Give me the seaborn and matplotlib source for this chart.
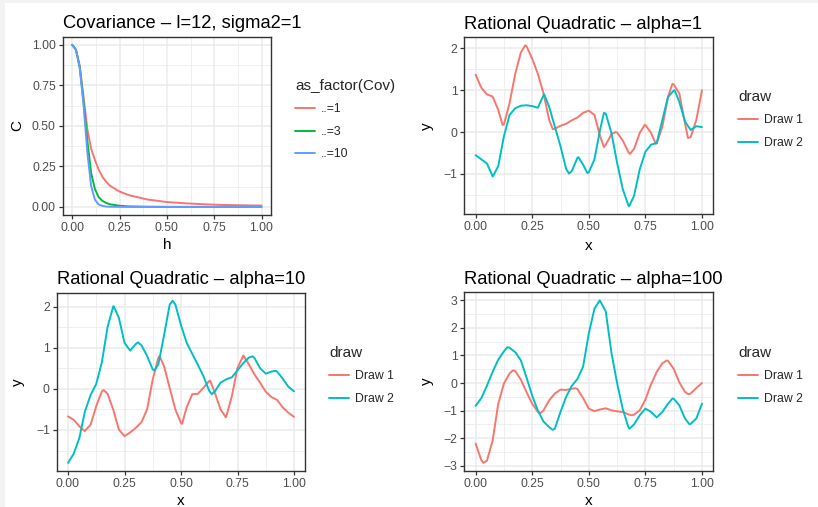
import numpy as np
import pandas as pd
import matplotlib
matplotlib.use('Agg')
import matplotlib.pyplot as plt
import seaborn as sns
from matplotlib.patches import Rectangle
from matplotlib.ticker import MultipleLocator, FormatStrFormatter

# covariance curves
h_vals = [0.0, 0.02, 0.04, 0.06, 0.08, 0.10, 0.12, 0.14, 0.16, 0.18, 0.20,
          0.25, 0.30, 0.40, 0.50, 0.60, 0.70, 0.80, 0.90, 1.00]
cov_1 = [1.0, 0.97, 0.87, 0.68, 0.48, 0.36, 0.29, 0.23, 0.185, 0.155, 0.13,
         0.095, 0.072, 0.045, 0.03, 0.022, 0.016, 0.012, 0.01, 0.008]
cov_3 = [1.0, 0.97, 0.86, 0.65, 0.41, 0.21, 0.11, 0.06, 0.037, 0.024, 0.016,
         0.007, 0.003, 0.001, 0.0, 0.0, 0.0, 0.0, 0.0, 0.0]
cov_10 = [1.0, 0.97, 0.86, 0.63, 0.34, 0.13, 0.045, 0.015, 0.006, 0.002, 0.001,
          0.0, 0.0, 0.0, 0.0, 0.0, 0.0, 0.0, 0.0, 0.0]
cov_labels = ['..=1', '..=3', '..=10']

# sample draws, read at x = 0, 0.025, ..., 1
x_draw = np.linspace(0, 1, 41)

a1_draw1 = [1.37, 1.06, 0.90, 0.85, 0.53, 0.18, 0.69, 1.39, 1.90, 2.05, 1.75,
            1.39, 0.92, 0.29, 0.08, 0.15, 0.20, 0.28, 0.35, 0.46, 0.51,
            0.41, -0.10, -0.30, -0.05, -0.01, -0.20, -0.48, -0.40, -0.02, 0.17,
            -0.02, -0.27, 0.13, 0.84, 1.14, 0.92, 0.21, -0.12, 0.29, 1.00]
a1_draw2 = [-0.55, -0.65, -0.75, -1.05, -0.81, -0.10, 0.41, 0.57, 0.63, 0.64, 0.62,
            0.58, 0.88, 0.60, 0.13, -0.34, -0.88, -0.93, -0.61, -0.78, -0.96,
            -0.65, 0.06, 0.44, -0.02, -0.73, -1.36, -1.75, -1.52, -0.89, -0.47,
            -0.30, -0.26, 0.29, 0.84, 0.99, 0.72, 0.25, 0.05, 0.14, 0.12]

a10_draw1 = [-0.67, -0.75, -0.91, -1.02, -0.87, -0.42, -0.06, -0.12, -0.50, -0.99, -1.15,
             -1.06, -0.95, -0.81, -0.50, 0.23, 0.76, 0.55, 0.02, -0.50, -0.83,
             -0.45, -0.13, -0.12, 0.03, 0.19, -0.10, -0.50, -0.68, -0.18, 0.51,
             0.80, 0.60, 0.35, 0.15, -0.07, -0.20, -0.27, -0.45, -0.58, -0.68]
a10_draw2 = [-1.80, -1.58, -1.20, -0.55, -0.15, 0.12, 0.65, 1.50, 2.00, 1.73, 1.12,
             0.93, 1.09, 1.06, 0.80, 0.47, 0.60, 1.30, 2.05, 2.05, 1.55,
             1.12, 0.85, 0.58, 0.30, -0.05, -0.06, 0.15, 0.23, 0.28, 0.45,
             0.62, 0.76, 0.75, 0.50, 0.37, 0.42, 0.42, 0.25, 0.05, -0.06]

a100_draw1 = [-2.20, -2.80, -2.82, -2.10, -0.75, -0.02, 0.35, 0.44, 0.12, -0.33, -0.75,
              -1.05, -0.99, -0.63, -0.38, -0.24, -0.25, -0.21, -0.22, -0.55, -0.93,
              -1.02, -0.96, -0.92, -0.99, -1.03, -1.05, -1.14, -1.15, -0.99, -0.60,
              -0.05, 0.40, 0.72, 0.80, 0.52, 0.02, -0.32, -0.38, -0.18, 0.00]
a100_draw2 = [-0.83, -0.55, -0.10, 0.40, 0.85, 1.15, 1.28, 1.12, 0.82, 0.20, -0.46,
              -1.00, -1.40, -1.60, -1.66, -1.05, -0.50, -0.10, 0.15, 0.60, 1.80,
              2.70, 2.98, 2.60, 1.10, 0.00, -0.95, -1.60, -1.50, -1.17, -0.93,
              -1.05, -1.25, -1.05, -0.75, -0.57, -0.81, -1.29, -1.48, -1.29, -0.75]

# turning points read separately (x, y), merged into the grid above
a1_draw1_tx = [0.119, 0.219, 0.341, 0.567, 0.618, 0.682, 0.747, 0.796, 0.869, 0.938]
a1_draw1_ty = [0.17, 2.07, 0.07, -0.36, 0.0, -0.52, 0.17, -0.28, 1.15, -0.14]
a1_draw2_tx = [0.076, 0.303, 0.413, 0.454, 0.494, 0.567, 0.678, 0.879]
a1_draw2_ty = [-1.06, 0.90, -0.99, -0.60, -0.98, 0.46, -1.77, 1.00]
a10_draw1_tx = [0.074, 0.158, 0.405, 0.505, 0.629, 0.698, 0.776]
a10_draw1_ty = [-1.03, -0.03, 0.80, -0.85, 0.20, -0.69, 0.81]
a10_draw2_tx = [0.202, 0.309, 0.383, 0.463, 0.636, 0.817, 0.920]
a10_draw2_ty = [2.01, 1.13, 0.45, 2.14, -0.13, 0.79, 0.44]
a100_draw1_tx = [0.035, 0.165, 0.288, 0.440, 0.690, 0.845, 0.940]
a100_draw1_ty = [-2.90, 0.46, -1.09, -0.19, -1.17, 0.82, -0.41]
a100_draw2_tx = [0.140, 0.340, 0.548, 0.680, 0.870, 0.945]
a100_draw2_ty = [1.30, -1.70, 3.00, -1.66, -0.56, -1.50]

W, H = 818, 507

sns.set_theme(style='white')
plt.rcParams['font.family'] = ['Liberation Sans', 'DejaVu Sans']

fig = plt.figure(figsize=(W / 100, H / 100), dpi=100)
fig.patch.set_facecolor('white')
# light grey strip along the top and left edges of the screenshot
fig.patches.append(Rectangle((0, 1 - 3 / H), 1, 3 / H, transform=fig.transFigure,
                             facecolor='#F3F3F3', edgecolor='none', zorder=0))
fig.patches.append(Rectangle((0, 0), 5 / W, 1, transform=fig.transFigure,
                             facecolor='#F3F3F3', edgecolor='none', zorder=0))


def px_box(left, top, right, bottom):
    return [left / W, 1 - bottom / H, (right - left) / W, (bottom - top) / H]


def style_panel(ax, box, title, xlab, ylab, ystep, yfmt, ylab_x, xlab_y):
    ax.set_facecolor('white')
    ax.xaxis.set_major_locator(MultipleLocator(0.25))
    ax.xaxis.set_minor_locator(MultipleLocator(0.125))
    ax.xaxis.set_major_formatter(FormatStrFormatter('%.2f'))
    ax.yaxis.set_major_locator(MultipleLocator(ystep))
    ax.yaxis.set_minor_locator(MultipleLocator(ystep / 2))
    if yfmt:
        ax.yaxis.set_major_formatter(FormatStrFormatter(yfmt))
    ax.grid(which='major', color='#EBEBEB', linewidth=1.1)
    ax.grid(which='minor', color='#EBEBEB', linewidth=0.55)
    ax.set_axisbelow(True)
    for s in ax.spines.values():
        s.set_visible(True)
        s.set_color('#333333')
        s.set_linewidth(1.0)
    ax.tick_params(which='major', length=2.75, width=0.9, color='#333333',
                   labelcolor='#4D4D4D', labelsize=8.8, pad=2.2,
                   bottom=True, left=True)
    ax.tick_params(which='minor', length=0)
    ax.set_title(title, loc='left', fontsize=13.2, pad=6.3, color='black')
    ax.set_xlabel(xlab, fontsize=11, color='black')
    ax.set_ylabel(ylab, fontsize=11, color='black')
    # axis titles placed in figure fractions, centred on the panel
    ax.yaxis.set_label_coords(ylab_x / W, box[1] + box[3] / 2,
                              transform=fig.transFigure)
    ax.xaxis.set_label_coords(box[0] + box[2] / 2, 1 - xlab_y / H,
                              transform=fig.transFigure)


def expand(vals):
    lo, hi = min(vals), max(vals)
    pad = 0.05 * (hi - lo)
    return lo - pad, hi + pad


def place_legend(ax, title, lx, ly):
    sns.move_legend(ax, 'upper left', bbox_to_anchor=(lx / W, 1 - ly / H),
                    bbox_transform=fig.transFigure, frameon=False, title=title,
                    fontsize=8.8, title_fontsize=11, borderpad=0, borderaxespad=0,
                    handlelength=1.65, handletextpad=0.45, labelspacing=0.85,
                    alignment='left')


# panel 1: covariance functions
box1 = px_box(62.7, 36.7, 271, 215)
ax1 = fig.add_axes(box1)
cov_df = pd.DataFrame({
    'h': h_vals * 3,
    'C': cov_1 + cov_3 + cov_10,
    'Cov': [cov_labels[0]] * len(h_vals) + [cov_labels[1]] * len(h_vals)
           + [cov_labels[2]] * len(h_vals),
})
sns.lineplot(data=cov_df, x='h', y='C', hue='Cov', hue_order=cov_labels,
             palette=['#F8766D', '#00BA38', '#619CFF'], estimator=None,
             linewidth=1.4, ax=ax1)
ax1.set_xlim(-0.05, 1.05)
ax1.set_ylim(-0.05, 1.05)
style_panel(ax1, box1, 'Covariance \u2013 l=12, sigma2=1', 'h', 'C', 0.25, '%.2f', 24, 238)
place_legend(ax1, 'as_factor(Cov)', 295, 79)

draw_colors = ['#F8766D', '#00BFC4']
panels = [
    (px_box(464.3, 37.3, 713.3, 214.3), 'Rational Quadratic \u2013 alpha=1',
     (a1_draw1, a1_draw1_tx, a1_draw1_ty), (a1_draw2, a1_draw2_tx, a1_draw2_ty),
     434, 239, 738, 90),
    (px_box(56.7, 292.7, 305.3, 471), 'Rational Quadratic \u2013 alpha=10',
     (a10_draw1, a10_draw1_tx, a10_draw1_ty), (a10_draw2, a10_draw2_tx, a10_draw2_ty),
     25, 494, 329, 346),
    (px_box(464.3, 292.3, 713.3, 471), 'Rational Quadratic \u2013 alpha=100',
     (a100_draw1, a100_draw1_tx, a100_draw1_ty), (a100_draw2, a100_draw2_tx, a100_draw2_ty),
     434, 494, 738, 346),
]

for box, title, s1, s2, ylx, xly, lx, ly in panels:
    ax = fig.add_axes(box)
    parts = []
    for name, (grid_y, tx, ty) in [('Draw 1', s1), ('Draw 2', s2)]:
        parts.append(pd.DataFrame({'x': list(x_draw) + tx, 'y': grid_y + ty, 'draw': name}))
    df = pd.concat(parts, ignore_index=True)
    sns.lineplot(data=df, x='x', y='y', hue='draw', palette=draw_colors,
                 estimator=None, sort=True, linewidth=1.4, ax=ax)
    ax.set_xlim(-0.05, 1.05)
    ax.set_ylim(*expand(list(df['y'])))
    style_panel(ax, box, title, 'x', 'y', 1, None, ylx, xly)
    place_legend(ax, 'draw', lx, ly)

fig.savefig('out.png', dpi=100)
